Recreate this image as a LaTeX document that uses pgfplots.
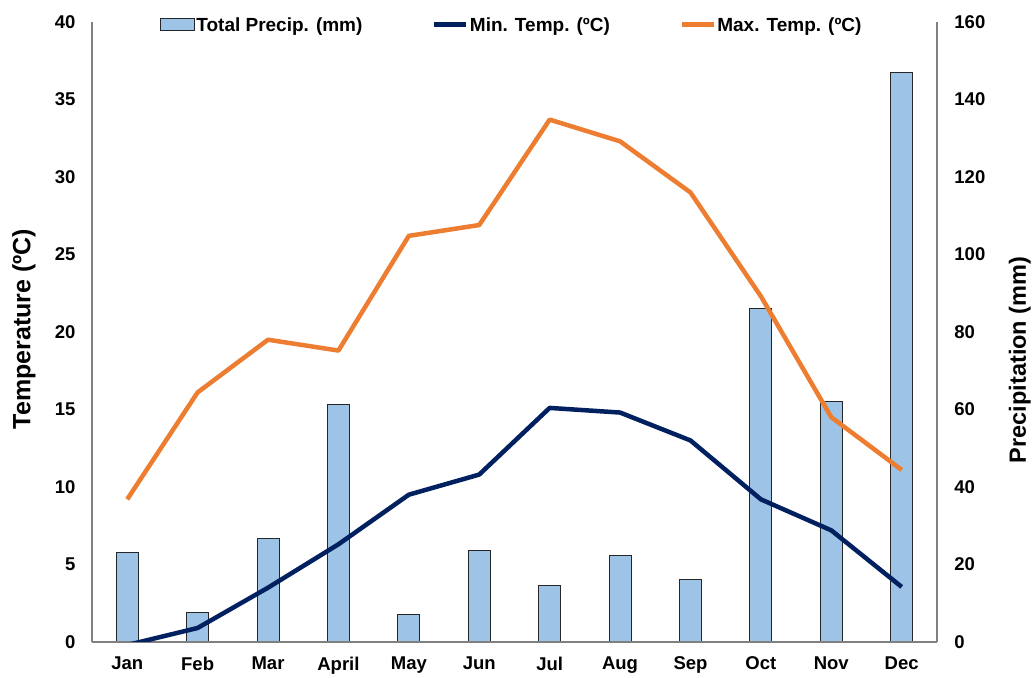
\documentclass[border=0pt]{standalone}
\usepackage{fontspec}
\setmainfont{Liberation Sans}
\usepackage{pgfplots}
\pgfplotsset{compat=1.18}
\definecolor{barblue}{HTML}{9DC3E6}
\definecolor{navy}{HTML}{002060}
\definecolor{orng}{HTML}{ED7D31}
\definecolor{axgray}{HTML}{808080}
\pgfplotsset{
  lineleg/.style={legend image code/.code={\draw[##1] (0pt,0.8pt) -- (32pt,0.8pt);}},
  barleg/.style={legend image code/.code={\draw[##1] (0pt,-5.2pt) rectangle (34pt,6.8pt);}},
  common/.style={
    at={(92pt,33pt)}, anchor=south west, scale only axis,
    width=845pt, height=620pt,
    xmin=0.5, xmax=12.5, major tick length=0pt,
    tick label style={font=\fontsize{18.5}{18.5}\selectfont\bfseries},
    /pgf/number format/assume math mode=true,
    axis line style={axgray, line width=1.3pt},
    ylabel style={anchor=center},
  },
}
\begin{document}
\begin{tikzpicture}
\path (0pt,0pt) rectangle (1034pt,675pt);
% precipitation (right axis), drawn first so the lines lie on top
\begin{axis}[common,
  ymin=0, ymax=160, ytick={0,20,...,160},
  axis y line*=right, axis x line=none,
  yticklabel style={xshift=14pt},
  ylabel={Precipitation (mm)},
  ylabel style={font=\fontsize{23.5}{23.5}\selectfont\bfseries,
    at={(axis description cs:1.098,0.455)}},
]
\addplot[ybar, bar width=22pt, fill=barblue, draw=black!85, line width=0.9pt]
  coordinates {(1,23) (2,7.5) (3,26.7) (4,61.2) (5,7) (6,23.5) (7,14.5) (8,22.2) (9,16) (10,86) (11,62) (12,147)};
\end{axis}
% temperature (left axis)
\begin{axis}[common,
  ymin=0, ymax=40, ytick={0,5,...,40},
  axis y line*=left, axis x line*=bottom,
  xtick={1,...,12},
  xticklabels={Jan,Feb,Mar,April,May,Jun,Jul,Aug,Sep,Oct,Nov,Dec},
  xticklabel style={yshift=-11.5pt},
  yticklabel style={xshift=-13pt},
  ylabel={Temperature (ºC)},
  ylabel style={font=\fontsize{25}{25}\selectfont\bfseries,
    at={(axis description cs:-0.0805,0.505)}},
  legend style={at={(axis description cs:0.4965,0.995)}, anchor=center,
    draw=none, fill=none, legend columns=3,
    font=\fontsize{19}{19}\selectfont\bfseries,
    /tikz/every even column/.append style={column sep=68pt},
    nodes={inner sep=1.5pt}},
]
\addlegendimage{fill=barblue, draw=black!85, line width=0.9pt, barleg}
\addlegendentry{Total Precip. (mm)}
\addplot[navy, line width=4.5pt, line join=round, lineleg]
  coordinates {(1,-0.2) (2,0.9) (3,3.5) (4,6.3) (5,9.5) (6,10.8) (7,15.1) (8,14.8) (9,13.0) (10,9.2) (11,7.2) (12,3.55)};
\addlegendentry{Min. Temp. (ºC)}
\addplot[orng, line width=4.5pt, line join=round, lineleg]
  coordinates {(1,9.2) (2,16.1) (3,19.5) (4,18.8) (5,26.2) (6,26.9) (7,33.7) (8,32.3) (9,29.0) (10,22.3) (11,14.5) (12,11.1)};
\addlegendentry{Max. Temp. (ºC)}
\end{axis}
\end{tikzpicture}
\end{document}
